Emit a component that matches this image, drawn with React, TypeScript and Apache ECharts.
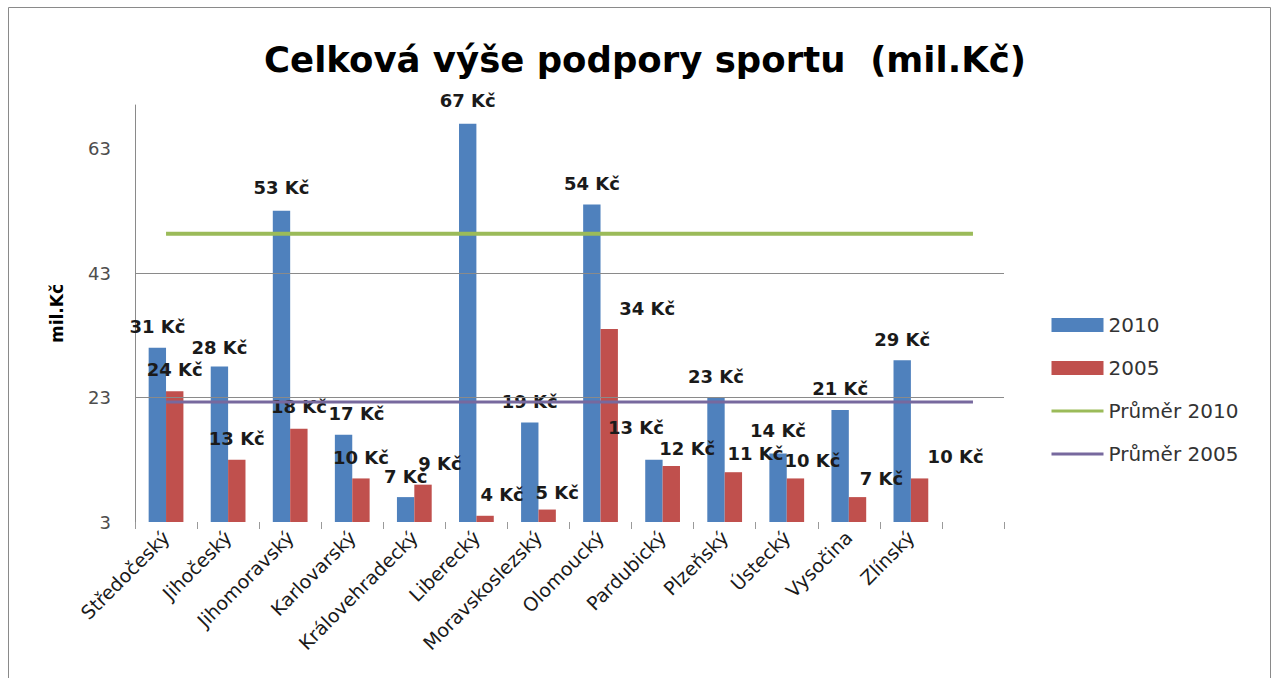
import React, { useEffect, useRef } from "react";
import * as echarts from "echarts";

const categories = [
  "Středočeský", "Jihočeský", "Jihomoravský", "Karlovarský", "Královehradecký",
  "Liberecký", "Moravskoslezský", "Olomoucký", "Pardubický", "Plzeňský",
  "Ústecký", "Vysočina", "Zlínský", "",
];
const values2010 = [31, 28, 53, 17, 7, 67, 19, 54, 13, 23, 14, 21, 29, null];
const values2005 = [24, 13, 18, 10, 9, 4, 5, 34, 12, 11, 10, 7, 10, null];
const avg2010 = [49.3, 49.3, 49.3, 49.3, 49.3, 49.3, 49.3, 49.3, 49.3, 49.3, 49.3, 49.3, 49.3, 49.3];
const avg2005 = [22.3, 22.3, 22.3, 22.3, 22.3, 22.3, 22.3, 22.3, 22.3, 22.3, 22.3, 22.3, 22.3, 22.3];
const gridValues = [23, 43];

// label nudges (style only), [dx, dy]
const shift2010 = [[0, 0], [0, 2], [0, -2], [13, 0], [0, 0], [0, -2], [0, 0], [0, 0], [-18, -11], [0, 0], [0, -2], [0, 0], [0, 0], [0, 0]];
const shift2005 = [[0, -1], [0, 0], [0, -1], [0, 0], [17, 0], [17, 0], [10, 4], [38, 0], [16, 4], [22, 2], [17, 3], [24, 2], [36, -1], [0, 0]];

const FONT = "DejaVu Sans";

export default function App() {
  const ref = useRef<HTMLDivElement>(null);
  useEffect(() => {
    if (!ref.current) return;
    const chart = echarts.init(ref.current, null, { renderer: "svg" });
    const labelBase = {
      show: true,
      position: "top" as const,
      distance: 12,
      fontFamily: FONT,
      fontWeight: "bold" as const,
      fontSize: 18,
      color: "#1a1a1a",
      formatter: (p: any) => p.value + " Kč",
    };
    chart.setOption({
      animation: false,
      backgroundColor: "#ffffff",
      title: {
        text: "Celková výše podpory sportu  (mil.Kč)",
        left: 640,
        textAlign: "center",
        top: 36,
        textStyle: { fontFamily: FONT, fontWeight: "bold", fontSize: 35.5, color: "#000" },
      },
      graphic: [
        {
          type: "rect",
          shape: { x: 8.5, y: 7.5, width: 1262, height: 720 },
          style: { fill: "none", stroke: "#8a8a8a", lineWidth: 1 },
          silent: true,
        },
      ],
      legend: {
        orient: "vertical",
        left: 1045,
        top: 310,
        itemWidth: 52,
        itemHeight: 14,
        itemGap: 23,
        textStyle: { fontFamily: FONT, fontSize: 20, color: "#333" },
        data: [
          { name: "2010", icon: "rect" },
          { name: "2005", icon: "rect" },
          { name: "Průměr 2010", itemStyle: { opacity: 0 }, lineStyle: { width: 3 } },
          { name: "Průměr 2005", itemStyle: { opacity: 0 }, lineStyle: { width: 3 } },
        ],
      },
      grid: { left: 135, right: 268, top: 105, bottom: 156 },
      xAxis: {
        type: "category",
        data: categories,
        axisLine: { show: false },
        axisTick: { show: true, length: 7, lineStyle: { color: "#9a9a9a" } },
        axisLabel: {
          rotate: 45,
          interval: 0,
          margin: 12,
          fontFamily: FONT,
          fontSize: 19,
          color: "#1a1a1a",
        },
      },
      yAxis: {
        type: "value",
        min: 3,
        max: 70,
        interval: 20,
        name: "mil.Kč",
        nameLocation: "middle",
        nameGap: 70,
        nameTextStyle: { fontFamily: FONT, fontWeight: "bold", fontSize: 17, color: "#000" },
        axisLine: { show: true, lineStyle: { color: "#8a8a8a" } },
        axisTick: { show: false },
        splitLine: { show: false },
        axisLabel: {
          showMaxLabel: false,
          margin: 24,
          fontFamily: FONT,
          fontSize: 18,
          color: "#4d4d4d",
        },
      },
      series: [
        {
          name: "2010",
          type: "bar",
          barGap: "0%",
          barCategoryGap: "44%",
          itemStyle: { color: "#4f81bd" },
          label: labelBase,
          data: values2010.map((v, i) => ({ value: v, label: { offset: shift2010[i] } })),
          markLine: {
            silent: true,
            symbol: "none",
            label: { show: false },
            lineStyle: { color: "#8a8a8a", type: "solid", width: 1 },
            data: gridValues.map((g) => ({ yAxis: g })),
          },
        },
        {
          name: "2005",
          type: "bar",
          itemStyle: { color: "#c0504d" },
          label: labelBase,
          data: values2005.map((v, i) => ({ value: v, label: { offset: shift2005[i] } })),
        },
        {
          name: "Průměr 2010",
          type: "line",
          symbol: "none",
          lineStyle: { color: "#9bbb59", width: 4 },
          itemStyle: { color: "#9bbb59" },
          data: avg2010,
        },
        {
          name: "Průměr 2005",
          type: "line",
          symbol: "none",
          lineStyle: { color: "#77699e", width: 3 },
          itemStyle: { color: "#77699e" },
          data: avg2005,
        },
      ],
    });
    return () => chart.dispose();
  }, []);
  return (
    <div
      ref={ref}
      style={{ position: "fixed", left: 0, top: 0, width: 1272, height: 678 }}
    />
  );
}
